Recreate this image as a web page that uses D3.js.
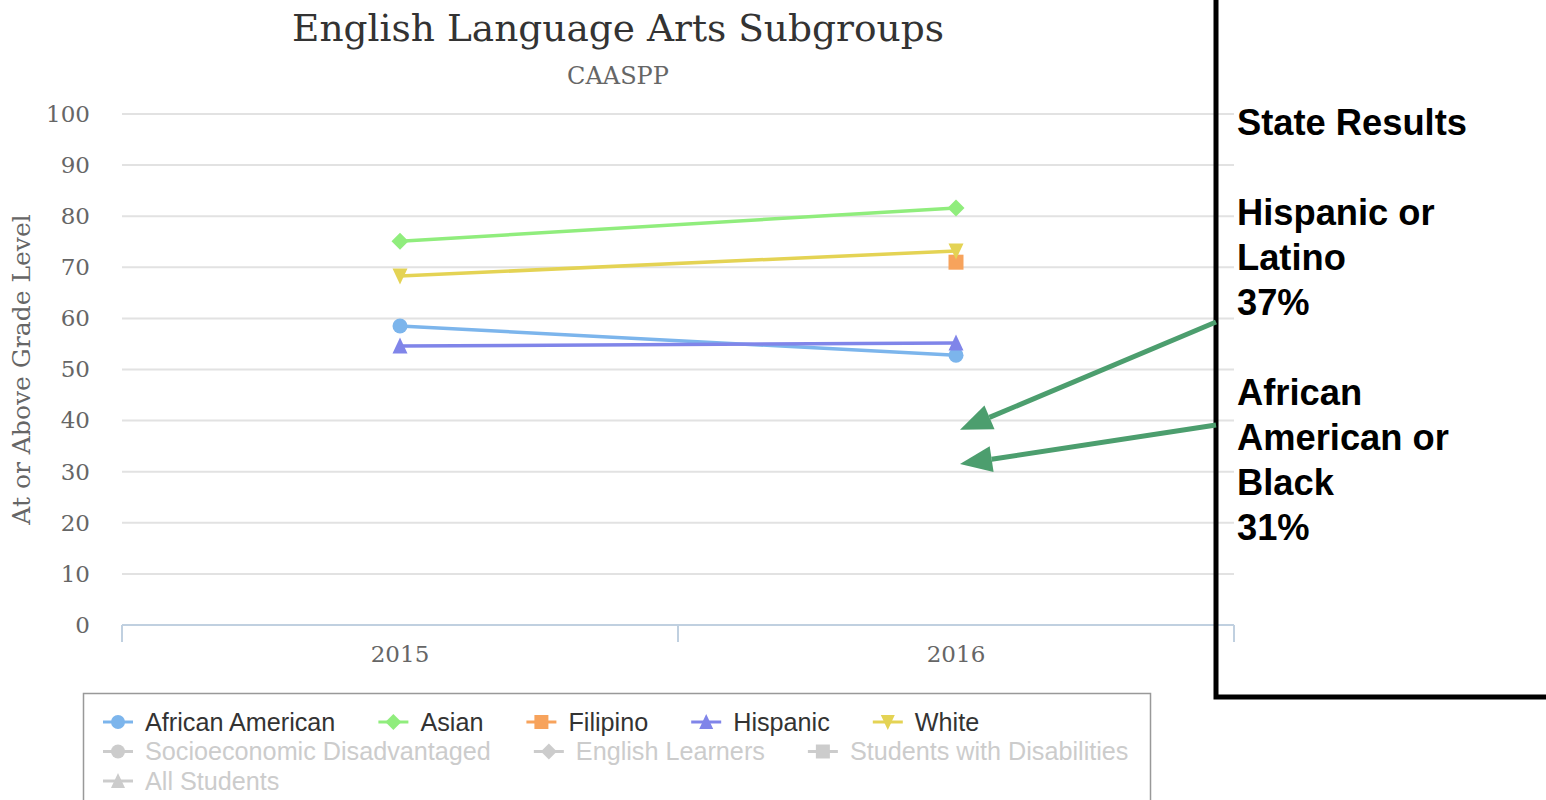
<!DOCTYPE html>
<html>
<head>
<meta charset="utf-8">
<script src="https://cdn.jsdelivr.net/npm/d3@7"></script>
<style>
  body { margin: 0; background: #fff; }
  svg { display: block; }
</style>
</head>
<body>
<div id="chart"></div>
<script>
// Categories and values
var years = ["2015", "2016"];
var africanAmerican = [58.5, 52.8];
var asian = [75.1, 81.6];
var filipino = [null, 71.0];
var hispanic = [54.6, 55.2];
var white = [68.3, 73.2];
var yTicks = [0, 10, 20, 30, 40, 50, 60, 70, 80, 90, 100];

// Series shown in the legend (last four are switched off)
var legendNames = ["African American", "Asian", "Filipino", "Hispanic", "White",
  "Socioeconomic Disadvantaged", "English Learners", "Students with Disabilities", "All Students"];
var legendOn = [true, true, true, true, true, false, false, false, false];

// Side note text and where its arrows point (percent)
var noteLines = ["State Results", "", "Hispanic or", "Latino", "37%", "", "African", "American or", "Black", "31%"];
var arrowTargets = [38.2, 31.5];

(function () {
  var w = 1546, h = 800;
  var padLeft = 122, padRight = 1234, padTop = 114, padBottom = 625;
  var colors = ["#7cb5ec", "#90ed7d", "#f7a35c", "#8085e9", "#e4d354"];
  var shapes = ["circle", "diamond", "square", "triangle", "triangle-down", "circle", "diamond", "square", "triangle"];
  var seriesData = [africanAmerican, asian, filipino, hispanic, white];

  var svg = d3.select("#chart").append("svg").attr("width", w).attr("height", h);

  var xScale = d3.scaleBand().domain(years).range([padLeft, padRight]);
  var yScale = d3.scaleLinear().domain([0, 100]).range([padBottom, padTop]);

  // marker path helper
  function marker(type, r) {
    if (type == "circle") return d3.symbol().type(d3.symbolCircle).size(Math.PI * r * r)();
    if (type == "square") return "M" + (-r) + "," + (-r) + "h" + 2 * r + "v" + 2 * r + "h" + (-2 * r) + "Z";
    if (type == "diamond") return "M0," + (-r - 1) + "L" + (r + 1) + ",0L0," + (r + 1) + "L" + (-r - 1) + ",0Z";
    if (type == "triangle") return "M0," + (-r - 1) + "L" + r + "," + r + "L" + (-r) + "," + r + "Z";
    return "M0," + (r + 1) + "L" + r + "," + (-r) + "L" + (-r) + "," + (-r) + "Z";
  }

  // Title
  svg.append("text")
    .attr("x", 618).attr("y", 41)
    .attr("text-anchor", "middle")
    .attr("font-family", "DejaVu Serif")
    .attr("font-size", 37.5)
    .attr("fill", "#333")
    .text("English Language Arts Subgroups");

  svg.append("text")
    .attr("x", 618).attr("y", 84)
    .attr("text-anchor", "middle")
    .attr("font-family", "DejaVu Serif")
    .attr("font-size", 24)
    .attr("fill", "#666")
    .text("CAASPP");

  // Gridlines
  svg.append("g")
    .selectAll("line")
    .data(yTicks.filter(function (d) { return d > 0; }))
    .enter()
    .append("line")
    .attr("x1", padLeft).attr("x2", padRight)
    .attr("y1", function (d) { return yScale(d); })
    .attr("y2", function (d) { return yScale(d); })
    .attr("stroke", "#e2e2e2")
    .attr("stroke-width", 2);

  // Y axis labels
  var yAxis = svg.append("g")
    .attr("transform", "translate(" + (padLeft - 32) + ",0)")
    .call(d3.axisLeft(yScale).tickValues(yTicks).tickSize(0).tickPadding(0));
  yAxis.select(".domain").remove();
  yAxis.selectAll("text")
    .attr("font-family", "DejaVu Serif")
    .attr("font-size", 23)
    .attr("fill", "#666");

  // Y axis title
  svg.append("text")
    .attr("text-anchor", "middle")
    .attr("transform", "translate(30," + ((padTop + padBottom) / 2) + ")rotate(-90)")
    .attr("font-family", "DejaVu Serif")
    .attr("font-size", 25)
    .attr("fill", "#666")
    .text("At or Above Grade Level");

  // X axis
  var xAxis = svg.append("g")
    .attr("transform", "translate(0," + padBottom + ")")
    .call(d3.axisBottom(xScale).tickSize(0).tickPadding(21));
  xAxis.select(".domain").attr("stroke", "#c0d0e0").attr("stroke-width", 2).attr("d", "M" + padLeft + ",0H" + padRight);
  xAxis.selectAll("text")
    .attr("font-family", "DejaVu Serif")
    .attr("font-size", 23)
    .attr("fill", "#666");
  xAxis.selectAll(".band-edge")
    .data([padLeft].concat(years.map(function (d) { return xScale(d) + xScale.bandwidth(); })))
    .enter()
    .append("line")
    .attr("x1", function (d) { return d; }).attr("x2", function (d) { return d; })
    .attr("y1", 0).attr("y2", 17)
    .attr("stroke", "#c0d0e0").attr("stroke-width", 2);

  // Series lines and markers
  var line = d3.line()
    .defined(function (d) { return d != null; })
    .x(function (d, i) { return xScale(years[i]) + xScale.bandwidth() / 2; })
    .y(function (d) { return yScale(d); });

  seriesData.forEach(function (data, s) {
    svg.append("path")
      .attr("d", line(data))
      .attr("fill", "none")
      .attr("stroke", colors[s])
      .attr("stroke-width", 3.5);
  });
  seriesData.forEach(function (data, s) {
    svg.selectAll(".m" + s)
      .data(data.map(function (d, i) { return { v: d, i: i }; }).filter(function (d) { return d.v != null; }))
      .enter()
      .append("path")
      .attr("transform", function (d) {
        return "translate(" + (xScale(years[d.i]) + xScale.bandwidth() / 2) + "," + yScale(d.v) + ")";
      })
      .attr("d", marker(shapes[s], 7.5))
      .attr("fill", colors[s]);
  });

  // Legend
  svg.append("rect")
    .attr("x", 83.5).attr("y", 693.5)
    .attr("width", 1067).attr("height", 130)
    .attr("fill", "none")
    .attr("stroke", "#999")
    .attr("stroke-width", 1.5);

  var lx = 103, ly = 722, maxX = 1145;
  legendNames.forEach(function (name, i) {
    var col = legendOn[i] ? colors[i] : "#ccc";
    var g = svg.append("g");
    var t = g.append("text")
      .attr("y", 8.5)
      .attr("font-family", "Liberation Sans")
      .attr("font-size", 25.2)
      .attr("fill", legendOn[i] ? "#333" : "#ccc")
      .text(name);
    var tw = t.node().getComputedTextLength();
    if (lx + 42 + tw > maxX) { lx = 103; ly += 29.5; }
    t.attr("x", 42);
    g.attr("transform", "translate(" + lx + "," + ly + ")");
    g.append("line").attr("x1", 0).attr("x2", 30).attr("y1", 0).attr("y2", 0)
      .attr("stroke", col).attr("stroke-width", 3);
    g.append("path").attr("transform", "translate(15,0)").attr("d", marker(shapes[i], 7)).attr("fill", col);
    lx += 42 + tw + 43;
  });

  // Side box with state results
  svg.append("path")
    .attr("d", "M1216,-5V697H1550")
    .attr("fill", "none")
    .attr("stroke", "#000")
    .attr("stroke-width", 5);

  svg.append("g")
    .attr("transform", "translate(1237,0)")
    .selectAll("text")
    .data(noteLines)
    .enter()
    .append("text")
    .attr("x", 0)
    .attr("y", function (d, i) { return 135 + i * 45; })
    .attr("font-family", "Liberation Sans")
    .attr("font-weight", "bold")
    .attr("font-size", 36.3)
    .attr("fill", "#000")
    .text(function (d) { return d; });

  // Arrows
  var arrowColor = "#4c9e6e";
  var arrowStarts = [[1216, 322], [1216, 425]];
  arrowTargets.forEach(function (v, i) {
    var x0 = arrowStarts[i][0], y0 = arrowStarts[i][1];
    var x1 = xScale("2016") + xScale.bandwidth() / 2 + 4, y1 = yScale(v);
    var ang = Math.atan2(y1 - y0, x1 - x0);
    var len = 32, half = 13;
    var bx = x1 - len * Math.cos(ang), by = y1 - len * Math.sin(ang);
    svg.append("line")
      .attr("x1", x0).attr("y1", y0).attr("x2", bx).attr("y2", by)
      .attr("stroke", arrowColor).attr("stroke-width", 5);
    svg.append("path")
      .attr("d", "M" + x1 + "," + y1 +
        "L" + (bx + half * Math.sin(ang)) + "," + (by - half * Math.cos(ang)) +
        "L" + (bx - half * Math.sin(ang)) + "," + (by + half * Math.cos(ang)) + "Z")
      .attr("fill", arrowColor);
  });
})();
</script>
</body>
</html>
